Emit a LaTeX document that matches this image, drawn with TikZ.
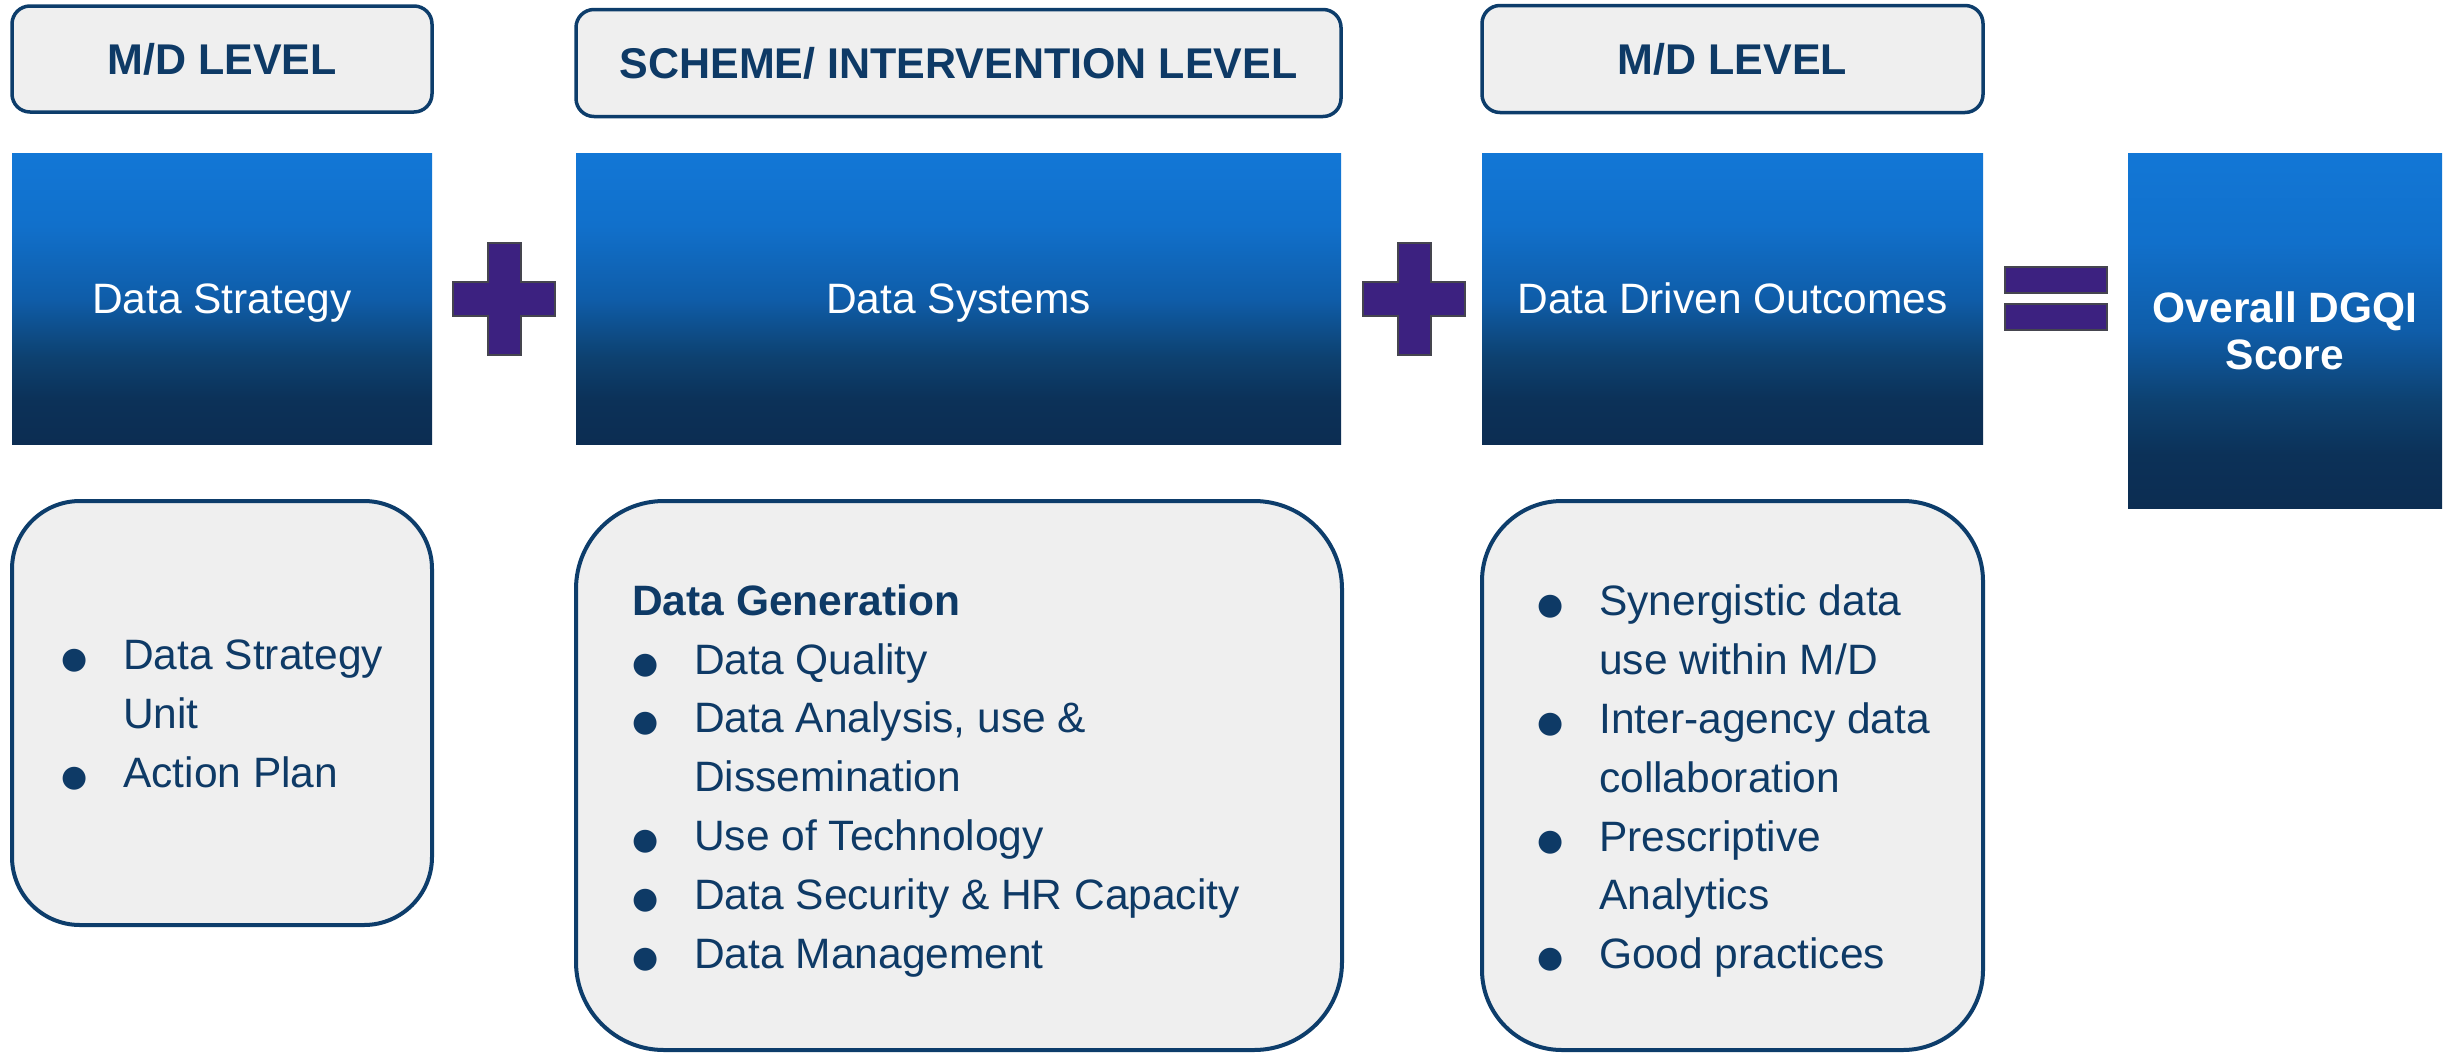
\documentclass[tikz,border=0pt]{standalone}
\usepackage{fontspec}
\setmainfont{Liberation Sans}
\newfontfamily\djv{DejaVu Sans}
\definecolor{navy}{HTML}{0E3A66}
\definecolor{boxline}{HTML}{0D3D6B}
\definecolor{boxfill}{HTML}{EFEFEF}
\definecolor{purp}{HTML}{3C2180}
\definecolor{purpline}{HTML}{45454F}
\definecolor{gA}{HTML}{0C2D52}
\definecolor{gB}{HTML}{0C3158}
\definecolor{gC}{HTML}{0D4170}
\definecolor{gD}{HTML}{0F5DA9}
\definecolor{gE}{HTML}{1170CB}
\definecolor{gF}{HTML}{1277D6}
\pgfdeclareverticalshading{bluegrad}{100bp}{color(0bp)=(gA); color(25bp)=(gA); color(32.5bp)=(gB); color(40bp)=(gC); color(50bp)=(gD); color(62.5bp)=(gE); color(75bp)=(gF); color(100bp)=(gF)}
\newcommand\bul{\makebox[62pt][l]{\raisebox{1pt}{\djv\fontsize{30}{30}\selectfont ●}}}
\newcommand\ind{\hspace*{62pt}}
\tikzset{
  headbox/.style={draw=boxline, line width=3.5pt, fill=boxfill, rounded corners=18pt,
    inner sep=0pt, text=navy, font=\fontsize{43}{50}\selectfont\bfseries,
    text height=31pt, text depth=0pt},
  bluebox/.style={shading=bluegrad, draw=none, inner sep=0pt, text=white,
    font=\fontsize{42.5}{47}\selectfont},
  onel/.style={text height=30.4pt, text depth=0pt},
  listbox/.style={draw=boxline, line width=4pt, fill=boxfill, inner sep=0pt},
  listtext/.style={inner sep=0pt, text=navy, anchor=west, font=\fontsize{42.5}{58.8}\selectfont},
  opsign/.style={fill=purp, draw=purpline, line width=2pt},
}
\begin{document}
\begin{tikzpicture}[x=1pt, y=-1pt]
\useasboundingbox (0,0) rectangle (2443,1052);
% header boxes
\node[headbox, minimum width=420pt, minimum height=106pt] (h1) at (222,59) {M/D LEVEL};
\node[headbox, minimum width=765pt, minimum height=107pt] (h2) at (958.5,63) {SCHEME/ INTERVENTION LEVEL};
\node[headbox, minimum width=501pt, minimum height=107pt] (h3) at (1732.5,59) {M/D LEVEL};
% blue boxes
\node[bluebox, onel, minimum width=420pt, minimum height=291pt] (b1) at (222,298.5) {Data Strategy};
\node[bluebox, onel, minimum width=765pt, minimum height=291pt] (b2) at (958.5,298.5) {Data Systems};
\node[bluebox, onel, minimum width=501pt, minimum height=291pt] (b3) at (1732.5,298.5) {Data Driven Outcomes};
\node[bluebox, align=center, minimum width=314pt, minimum height=355pt] (b4) at (2285,330.5) {\bfseries Overall DGQI\\\bfseries Score};
% plus signs
\path[opsign] (488,243) -- (521,243) -- (521,282) -- (555,282) -- (555,316) -- (521,316) -- (521,355)
  -- (488,355) -- (488,316) -- (453,316) -- (453,282) -- (488,282) -- cycle;
\path[opsign] (1397.5,243) -- (1430.5,243) -- (1430.5,282) -- (1465,282) -- (1465,316) -- (1430.5,316) -- (1430.5,355)
  -- (1397.5,355) -- (1397.5,316) -- (1363,316) -- (1363,282) -- (1397.5,282) -- cycle;
% equals sign
\path[opsign] (2005,267) rectangle (2107,293);
\path[opsign] (2005,304) rectangle (2107,330);
% list boxes
\node[listbox, rounded corners=68pt, minimum width=420pt, minimum height=424pt] (l1) at (222,713) {};
\node[listbox, rounded corners=88pt, minimum width=766pt, minimum height=549pt] (l2) at (959,775.5) {};
\node[listbox, rounded corners=80pt, minimum width=501pt, minimum height=549pt] (l3) at (1732.5,775.5) {};
% list texts
\node[listtext] (t1) at (61,716.5) {\begin{tabular}{@{}l@{}}
\bul Data Strategy\\
\ind Unit\\
\bul Action Plan
\end{tabular}};
\node[listtext] (t2) at (632,780) {\begin{tabular}{@{}l@{}}
\textbf{Data Generation}\\
\bul Data Quality\\
\bul Data Analysis, use \&\\
\ind Dissemination\\
\bul Use of Technology\\
\bul Data Security \& HR Capacity\\
\bul Data Management
\end{tabular}};
\node[listtext] (t3) at (1537,780.5) {\begin{tabular}{@{}l@{}}
\bul Synergistic data\\
\ind use within M/D\\
\bul Inter-agency data\\
\ind collaboration\\
\bul Prescriptive\\
\ind Analytics\\
\bul Good practices
\end{tabular}};
\end{tikzpicture}
\end{document}
